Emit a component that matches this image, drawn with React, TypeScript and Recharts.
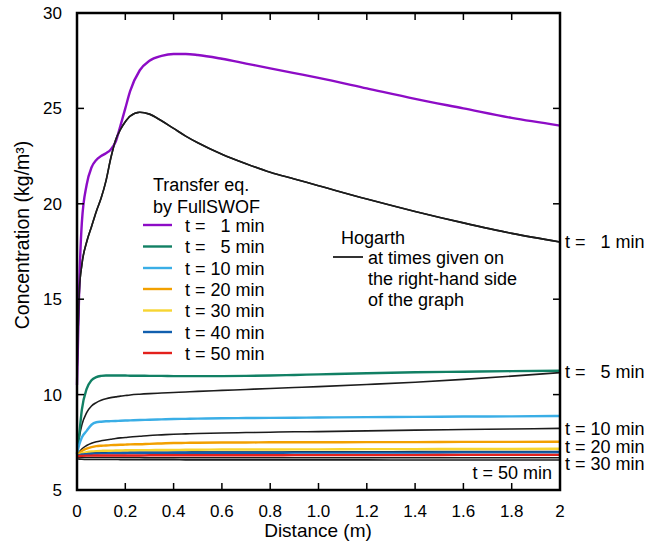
import React from 'react';
import { LineChart, Line, XAxis, YAxis } from 'recharts';

// distance along the plot (m)
const distance = [0, 0.01, 0.02, 0.04, 0.06, 0.08, 0.1, 0.12, 0.14, 0.16, 0.18, 0.2, 0.22, 0.26, 0.3, 0.35, 0.4, 0.45, 0.5, 0.6, 0.7, 0.8, 0.9, 1.0, 1.2, 1.4, 1.6, 1.8, 2.0];

// FullSWOF transfer equation
const swof1 = [10.5, 16.0, 19.0, 21.0, 21.9, 22.3, 22.5, 22.65, 22.85, 23.25, 24.1, 25.0, 25.9, 27.0, 27.5, 27.75, 27.85, 27.85, 27.8, 27.6, 27.35, 27.1, 26.85, 26.6, 26.05, 25.5, 25.0, 24.5, 24.1];
const swof5 = [6.9, 8.0, 9.2, 10.3, 10.75, 10.92, 10.98, 11.0, 11.0, 11.0, 11.0, 11.0, 10.99, 10.99, 10.98, 10.98, 10.97, 10.97, 10.97, 10.97, 10.98, 11.0, 11.03, 11.06, 11.12, 11.17, 11.2, 11.23, 11.25];
const swof10 = [6.9, 7.4, 7.75, 8.1, 8.42, 8.55, 8.58, 8.6, 8.61, 8.62, 8.63, 8.64, 8.65, 8.67, 8.68, 8.7, 8.72, 8.73, 8.74, 8.76, 8.77, 8.78, 8.79, 8.8, 8.82, 8.83, 8.85, 8.86, 8.88];
const swof20 = [6.8, 6.95, 7.05, 7.17, 7.25, 7.3, 7.32, 7.33, 7.35, 7.36, 7.37, 7.38, 7.39, 7.4, 7.42, 7.44, 7.46, 7.47, 7.48, 7.49, 7.49, 7.5, 7.5, 7.5, 7.51, 7.51, 7.52, 7.52, 7.53];
const swof30 = [6.8, 6.87, 6.92, 6.98, 7.02, 7.04, 7.05, 7.06, 7.06, 7.07, 7.07, 7.08, 7.08, 7.09, 7.09, 7.1, 7.1, 7.11, 7.11, 7.12, 7.12, 7.12, 7.13, 7.13, 7.14, 7.14, 7.15, 7.15, 7.16];
const swof40 = [6.8, 6.83, 6.86, 6.88, 6.9, 6.91, 6.92, 6.92, 6.93, 6.93, 6.93, 6.93, 6.94, 6.94, 6.94, 6.94, 6.95, 6.95, 6.95, 6.95, 6.95, 6.95, 6.96, 6.96, 6.96, 6.96, 6.97, 6.97, 6.97];
const swof50 = [6.76, 6.78, 6.79, 6.8, 6.8, 6.81, 6.81, 6.81, 6.81, 6.81, 6.81, 6.81, 6.81, 6.81, 6.82, 6.82, 6.82, 6.82, 6.82, 6.82, 6.82, 6.82, 6.83, 6.83, 6.83, 6.83, 6.84, 6.84, 6.84];

// Hogarth solution
const hog1 = [11.0, 15.5, 16.8, 18.0, 18.8, 19.6, 20.3, 21.2, 22.4, 23.35, 23.9, 24.3, 24.6, 24.8, 24.7, 24.35, 23.95, 23.55, 23.2, 22.6, 22.1, 21.65, 21.3, 20.95, 20.25, 19.6, 19.0, 18.45, 18.0];
const hog5 = [6.9, 7.8, 8.4, 9.05, 9.4, 9.58, 9.7, 9.78, 9.84, 9.88, 9.92, 9.95, 9.98, 10.02, 10.05, 10.08, 10.11, 10.14, 10.17, 10.22, 10.27, 10.32, 10.37, 10.42, 10.53, 10.65, 10.8, 10.97, 11.15];
const hog10 = [6.8, 7.0, 7.15, 7.33, 7.45, 7.53, 7.58, 7.62, 7.66, 7.7, 7.73, 7.75, 7.78, 7.82, 7.86, 7.89, 7.92, 7.94, 7.96, 7.99, 8.01, 8.03, 8.05, 8.06, 8.1, 8.14, 8.17, 8.2, 8.23];
const hog20 = [6.8, 6.85, 6.88, 6.92, 6.94, 6.95, 6.96, 6.96, 6.97, 6.97, 6.97, 6.97, 6.97, 6.98, 6.98, 6.98, 6.98, 6.98, 6.99, 6.99, 6.99, 6.99, 7.0, 7.0, 7.0, 7.01, 7.01, 7.02, 7.02];
const hog30 = [6.72, 6.71, 6.7, 6.7, 6.7, 6.7, 6.7, 6.7, 6.7, 6.7, 6.7, 6.7, 6.7, 6.7, 6.69, 6.69, 6.69, 6.69, 6.69, 6.69, 6.69, 6.69, 6.69, 6.69, 6.69, 6.69, 6.69, 6.69, 6.69];
const hog50 = [6.64, 6.62, 6.61, 6.6, 6.6, 6.6, 6.6, 6.6, 6.6, 6.6, 6.59, 6.59, 6.59, 6.59, 6.59, 6.59, 6.59, 6.58, 6.58, 6.58, 6.58, 6.58, 6.58, 6.58, 6.58, 6.57, 6.57, 6.57, 6.57];

const xTicks = [0, 0.2, 0.4, 0.6, 0.8, 1.0, 1.2, 1.4, 1.6, 1.8, 2];
const yTicks = [5, 10, 15, 20, 25, 30];

const swofSeries = [
  { key: 'swof1', label: 't =   1 min', values: swof1, color: '#8d0cc6' },
  { key: 'swof5', label: 't =   5 min', values: swof5, color: '#118064' },
  { key: 'swof10', label: 't = 10 min', values: swof10, color: '#3aaee6' },
  { key: 'swof20', label: 't = 20 min', values: swof20, color: '#f2a000' },
  { key: 'swof30', label: 't = 30 min', values: swof30, color: '#f7d532' },
  { key: 'swof40', label: 't = 40 min', values: swof40, color: '#115fae' },
  { key: 'swof50', label: 't = 50 min', values: swof50, color: '#e3201c' },
];

const hogSeries = [
  { key: 'hog1', label: 't =   1 min', values: hog1 },
  { key: 'hog5', label: 't =   5 min', values: hog5 },
  { key: 'hog10', label: 't = 10 min', values: hog10 },
  { key: 'hog20', label: 't = 20 min', values: hog20 },
  { key: 'hog30', label: 't = 30 min', values: hog30 },
  { key: 'hog50', label: 't = 50 min', values: hog50 },
];

const chartData = distance.map((d, i) => {
  const row: any = { d };
  swofSeries.forEach(s => { row[s.key] = s.values[i]; });
  hogSeries.forEach(s => { row[s.key] = s.values[i]; });
  return row;
});

const W = 648;
const H = 543;
const LEFT = 77;
const RIGHT = 560;
const TOP = 13;
const BOTTOM = 490;
const FONT = '"Liberation Sans", Arial, Helvetica, sans-serif';

const fmtX = (v: number) => (v === 0 ? '0' : v === 2 ? '2' : v.toFixed(1));

const XTick = (props: any) => {
  const { x, payload } = props;
  const edge = payload.value === 0 || payload.value === 2;
  return (
    <g>
      {!edge && <line x1={x} x2={x} y1={BOTTOM} y2={BOTTOM - 7} stroke="#000" strokeWidth={1.5} />}
      {!edge && <line x1={x} x2={x} y1={TOP} y2={TOP + 7} stroke="#000" strokeWidth={1.5} />}
      <text x={x} y={517} textAnchor="middle" fontSize={17} fontFamily={FONT} fill="#000">
        {fmtX(payload.value)}
      </text>
    </g>
  );
};

const YTick = (props: any) => {
  const { y, payload } = props;
  const edge = payload.value === 5 || payload.value === 30;
  return (
    <g>
      {!edge && <line x1={LEFT} x2={LEFT + 7} y1={y} y2={y} stroke="#000" strokeWidth={1.5} />}
      {!edge && <line x1={RIGHT} x2={RIGHT - 7} y1={y} y2={y} stroke="#000" strokeWidth={1.5} />}
      <text x={62} y={y + 6} textAnchor="end" fontSize={17} fontFamily={FONT} fill="#000">
        {payload.value}
      </text>
    </g>
  );
};

const legendRows = [225, 246.5, 268, 289, 310.5, 332, 353];
const rightLabelY = [241, 371, 428, 446, 463];

export default function App() {
  const txt = { fontFamily: FONT, fill: '#000', whiteSpace: 'pre' as const };
  return (
    <div style={{ position: 'absolute', left: 0, top: 0, width: W, height: H, background: '#fff' }}>
      <LineChart width={W} height={H} data={chartData} margin={{ top: TOP, right: W - RIGHT, bottom: 0, left: 0 }}>
        <XAxis
          dataKey="d"
          type="number"
          domain={[0, 2]}
          ticks={xTicks}
          interval={0}
          height={H - BOTTOM}
          axisLine={false}
          tickLine={false}
          tick={<XTick />}
        />
        <YAxis
          type="number"
          domain={[5, 30]}
          ticks={yTicks}
          interval={0}
          width={LEFT}
          axisLine={false}
          tickLine={false}
          tick={<YTick />}
        />
        {hogSeries.map(s => (
          <Line key={s.key} dataKey={s.key} type="monotone" stroke="#1c1c1c" strokeWidth={1.6} dot={false} isAnimationActive={false} />
        ))}
        {swofSeries.map(s => (
          <Line key={s.key} dataKey={s.key} type="monotone" stroke={s.color} strokeWidth={2.4} dot={false} isAnimationActive={false} />
        ))}
        {/* Hogarth 1 min is drawn over the colored lines near its peak */}
        <Line dataKey="hog1" type="monotone" stroke="#1c1c1c" strokeWidth={1.6} dot={false} isAnimationActive={false} />
      </LineChart>

      <svg width={W} height={H} style={{ position: 'absolute', left: 0, top: 0, pointerEvents: 'none' }}>
        <rect x={LEFT} y={TOP} width={RIGHT - LEFT} height={BOTTOM - TOP} fill="none" stroke="#000" strokeWidth={2.5} />

        <text x={318} y={537} textAnchor="middle" fontSize={19} style={txt}>Distance (m)</text>
        <text transform="translate(29,235) rotate(-90)" textAnchor="middle" fontSize={19.5} style={txt}>
          Concentration (kg/m³)
        </text>

        <text x={153} y={191} fontSize={18} style={txt}>Transfer eq.</text>
        <text x={153} y={212.5} fontSize={18} style={txt}>by FullSWOF</text>
        {swofSeries.map((s, i) => (
          <g key={s.key}>
            <line x1={143} x2={172} y1={legendRows[i]} y2={legendRows[i]} stroke={s.color} strokeWidth={2.4} />
            <text x={185} y={legendRows[i] + 6.5} fontSize={18} style={txt}>{s.label}</text>
          </g>
        ))}

        <text x={341} y={244} fontSize={18} style={txt}>Hogarth</text>
        <line x1={333} x2={363} y1={257} y2={257} stroke="#1c1c1c" strokeWidth={1.8} />
        <text x={368} y={263.5} fontSize={18} style={txt}>at times given on</text>
        <text x={368} y={284.5} fontSize={18} style={txt}>the right-hand side</text>
        <text x={368} y={305.5} fontSize={18} style={txt}>of the graph</text>

        {hogSeries.slice(0, 5).map((s, i) => (
          <text key={s.key} x={565} y={rightLabelY[i] + 6.5} fontSize={18} style={txt}>{s.label}</text>
        ))}
        <text x={552} y={478.5} textAnchor="end" fontSize={18} style={txt}>{hogSeries[5].label}</text>
      </svg>
    </div>
  );
}
